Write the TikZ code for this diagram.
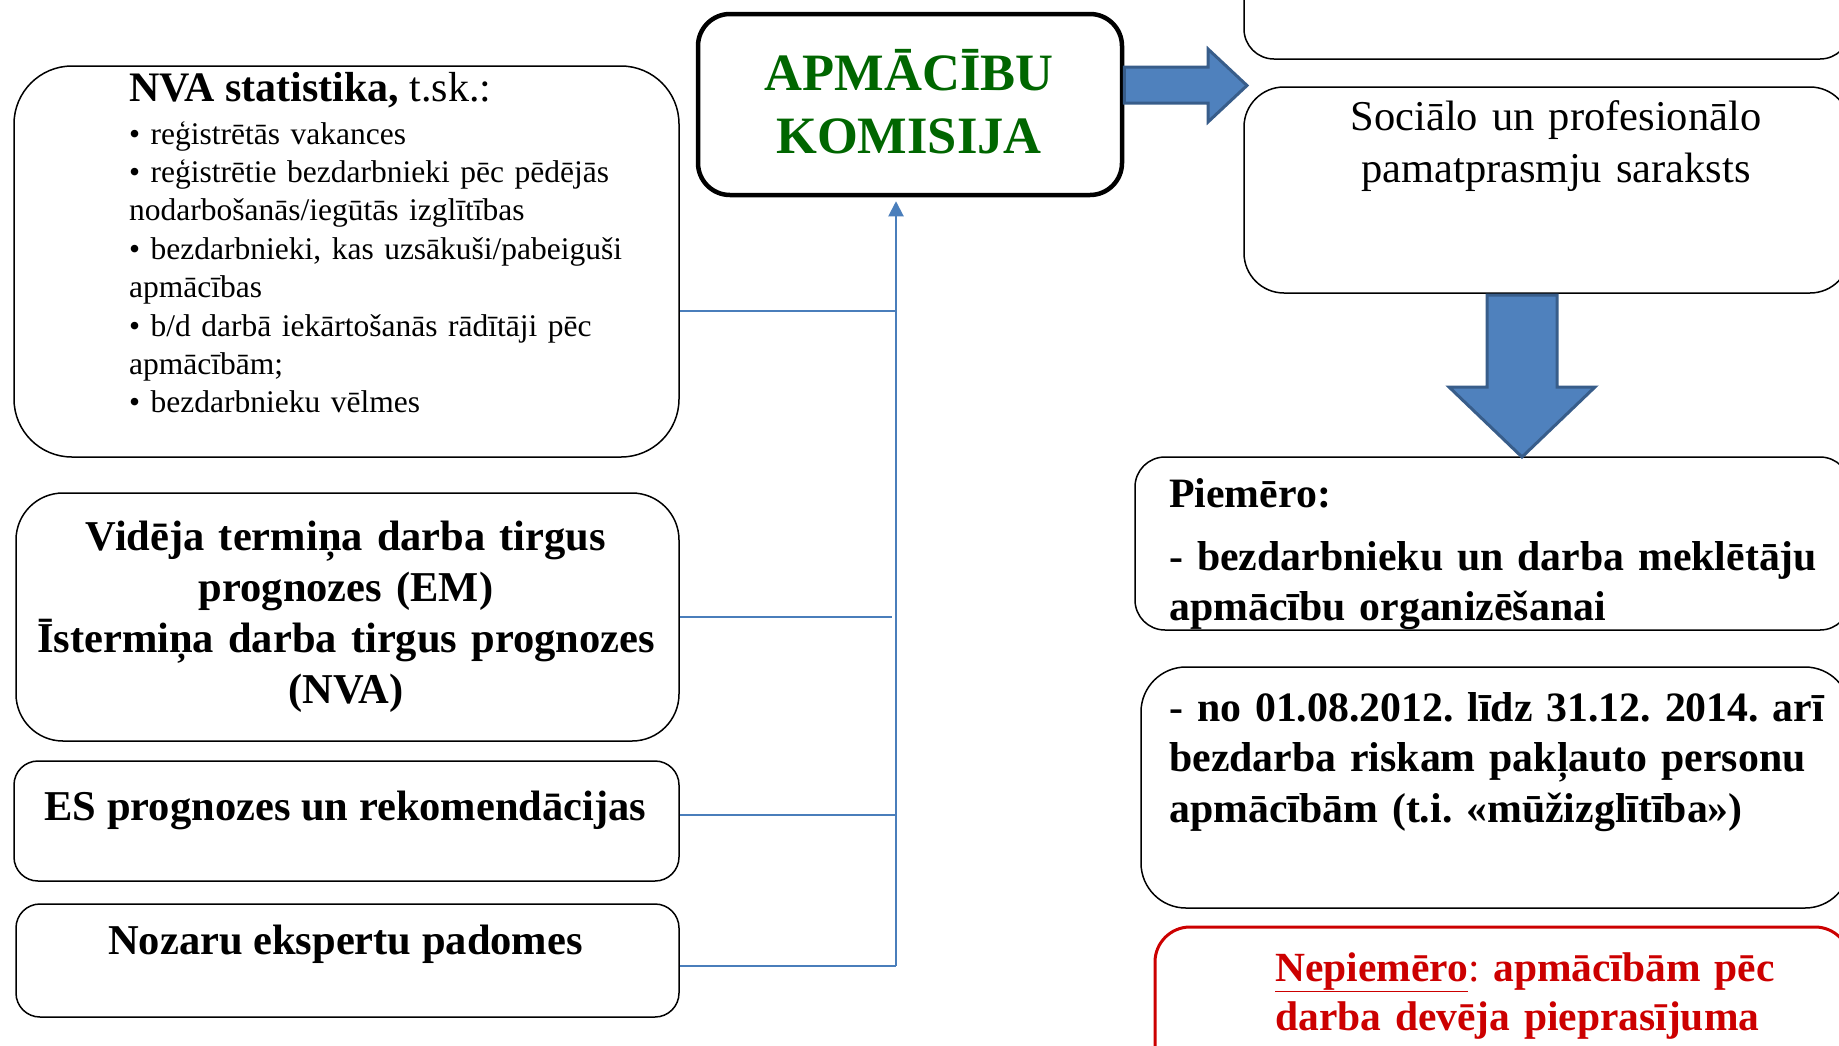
\documentclass[tikz,border=0pt]{standalone}
\usepackage{fontspec}
\setmainfont{Liberation Serif}
\usetikzlibrary{calc,arrows.meta}

\definecolor{komgreen}{RGB}{0,102,0}
\definecolor{nored}{RGB}{204,0,0}
\definecolor{linkblue}{RGB}{74,126,187}
\definecolor{arrfill}{RGB}{79,129,189}
\definecolor{arrdraw}{RGB}{56,93,138}

\tikzset{
	box/.style={draw, line width=1.5pt, rounded corners=#1, inner sep=0pt},
	box/.default=30pt,
	txt/.style={inner sep=0pt, anchor=base west, align=left},
	link/.style={draw=linkblue, line width=2.5pt},
	blockarr/.style={fill=arrfill, draw=arrdraw, line width=3pt, line join=miter},
}

\begin{document}
\frenchspacing
\begin{tikzpicture}[x=1pt, y=-1pt]
	\useasboundingbox (0,0) rectangle (1839,1045);

% left column
	\node[box=58pt, minimum width=665pt, minimum height=391pt] (nva) at (346.5,261.5) {};
	\node[box=47pt, minimum width=663pt, minimum height=248pt] (vid) at (347.5,617) {};
	\node[box=24pt, minimum width=665pt, minimum height=120pt] (es) at (346.5,821) {};
	\node[box=24pt, minimum width=663pt, minimum height=113pt] (noz) at (347.5,960.5) {};

	\node[txt, font=\fontsize{42}{45}\selectfont] (nvat) at (129,101) {\textbf{NVA statistika,} t.sk.:};
	\node[txt, text width=560pt, font=\fontsize{31.5}{38.4}\selectfont] (nval) at (129,144)
		{• reģistrētās vakances\\
		• reģistrētie bezdarbnieki pēc pēdējās\\
		nodarbošanās/iegūtās izglītības\\
		• bezdarbnieki, kas uzsākuši/pabeiguši\\
		apmācības\\
		• b/d darbā iekārtošanās rādītāji pēc\\
		apmācībām;\\
		• bezdarbnieku vēlmes};
	\node[txt, anchor=base, align=center, text width=660pt, font=\bfseries\fontsize{42.5}{51.3}\selectfont] (vidt) at (346,550)
		{Vidēja termiņa darba tirgus\\ prognozes (EM)\\ Īstermiņa darba tirgus prognozes\\ (NVA)};
	\node[txt, anchor=base, font=\bfseries\fontsize{42.5}{51}\selectfont] (est) at (345.5,820) {ES prognozes un rekomendācijas};
	\node[txt, anchor=base, font=\bfseries\fontsize{42.5}{51}\selectfont] (nozt) at (345.5,954) {Nozaru ekspertu padomes};

% komisija
	\node[box=32pt, line width=4.5pt, minimum width=424pt, minimum height=181pt] (kom) at (910,104.5) {};
	\node[txt, anchor=base, align=center, text width=420pt, text=komgreen, font=\bfseries\fontsize{52.5}{63}\selectfont] (komt) at (909,90)
		{APMĀCĪBU\\ KOMISIJA};

% right column
	\node[box=30pt, minimum width=606pt, minimum height=159pt] (top) at (1547,-20.5) {};
	\node[box=40pt, minimum width=606pt, minimum height=206pt] (soc) at (1547,190) {};
	\node[box=30pt, minimum width=715pt, minimum height=173pt] (pie) at (1492.5,543.5) {};
	\node[box=45pt, minimum width=709pt, minimum height=241pt] (pri) at (1495.5,787.5) {};
	\node[box=35pt, draw=nored, line width=3pt, minimum width=695pt, minimum height=163pt] (neg) at (1502.5,1008.5) {};

	\node[txt, anchor=base, align=center, text width=560pt, font=\fontsize{42.5}{52}\selectfont] (soct) at (1556,130)
		{Sociālo un profesionālo\\ pamatprasmju saraksts};
	\node[txt, text width=720pt, font=\bfseries\fontsize{41.8}{50}\selectfont] (piet) at (1169,507)
		{Piemēro:\\[13pt]
		- bezdarbnieku un darba meklētāju\\
		apmācību organizēšanai};
	\node[txt, text width=720pt, font=\bfseries\fontsize{41.8}{50.5}\selectfont] (prit) at (1169,721)
		{- no 01.08.2012. līdz 31.12. 2014. arī\\
		bezdarba riskam pakļauto personu\\
		apmācībām (t.i. «mūžizglītība»)};
	\node[txt, text width=600pt, text=nored, font=\fontsize{41.5}{49}\selectfont] (negt) at (1275,981)
		{\textbf{\underline{Nepiemēro}}: \textbf{apmācībām pēc}\\
		\textbf{darba devēja pieprasījuma}};

% links to komisija
	\coordinate (bus) at (896,966);
	\draw[link] ($(nva.east)+(0,49.5)$) coordinate (nvaout) -- (nvaout -| bus);
	\draw[link] (vid.east) -- ($(vid.east -| bus)+(-4,0)$);
	\draw[link] ($(es.east)+(0,-6)$) coordinate (esout) -- (esout -| bus);
	\draw[link] (noz.east |- bus) -- (bus);
	\draw[link, line width=2pt, -{Triangle[width=15pt,length=15pt]}] (bus) -- ($(kom.south -| bus)+(0,4)$);

% block arrows
	\draw[blockarr] (kom.east |- 0,67) -- (1208,67) -- (1208,49) -- (1247,85.5) -- (1208,122) -- (1208,103) -- (kom.east |- 0,103) -- cycle;
	\draw[blockarr] (1487,295) -- (1487,387) -- (1449,387) -- (1522,457) -- (1595,387) -- (1557,387) -- (1557,295) -- cycle;
\end{tikzpicture}
\end{document}
